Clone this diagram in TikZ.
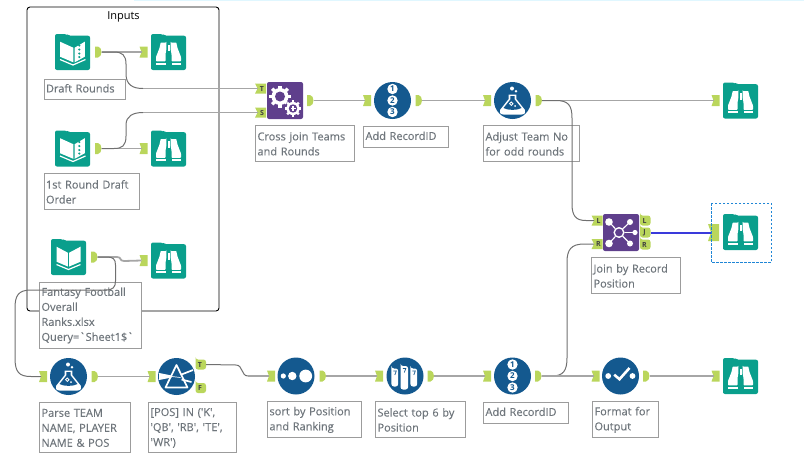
\documentclass[tikz,border=0pt]{standalone}
\usepackage{fontspec}
\setmainfont{Open Sans}
\newfontfamily\lblfont[FakeBold=0.25]{Open Sans}
\definecolor{tealico}{HTML}{0A9F8C}
\definecolor{blueico}{HTML}{14598F}
\definecolor{purpico}{HTML}{5F3F8C}
\definecolor{tagcol}{HTML}{BAD65C}
\definecolor{wirecol}{HTML}{A6A6A6}
\definecolor{curvecol}{HTML}{707070}
\definecolor{lblcol}{HTML}{6F767C}
\definecolor{boxcol}{HTML}{9C9C9C}
\definecolor{selwire}{HTML}{3A3ADB}
\definecolor{seldash}{HTML}{1F86D6}
\tikzset{
	wire/.style={wirecol,line width=1.8},
	curve/.style={curvecol,line width=1},
	lbl/.style={draw=boxcol,line width=1,fill=white,anchor=north west,align=left,inner sep=2,text=lblcol,font=\lblfont\fontsize{11}{15}\selectfont},
	lblone/.style={lbl,text depth=2.5},
	lblmany/.style={lbl,yshift=0.6},
	taglbl/.style={inner sep=0,text=black!75,font=\fontsize{7}{7}\selectfont\bfseries},
	intag/.pic={
		\fill[tagcol] (-4,-5.5) to (4,-5.5) to (4,5.5) to (-4,5.5) to (-2,0) to cycle;
		\coordinate (-w) at (-2,0);
	},
	inbig/.pic={
		\fill[tagcol] (-5.5,-8.5) to (5.5,-8.5) to (5.5,8.5) to (-5.5,8.5) to (-2.5,0) to cycle;
		\coordinate (-w) at (-2.5,0);
	},
	outtag/.pic={
		\fill[tagcol] (-3,-5.5) to (0,-5.5) .. controls (2,-5.5) and (3.5,-2.5) .. (3.5,0) .. controls (3.5,2.5) and (2,5.5) .. (0,5.5) to (-3,5.5) to cycle;
		\coordinate (-e) at (3.5,0);
	},
	inport/.pic={
		\fill[tagcol] (-5.5,-5) to (5.5,-5) to (5.5,5) to (-5.5,5) to (-3,0) to cycle;
		\node[taglbl] (-t) at (1.5,0) {#1};
		\coordinate (-w) at (-3,0);
	},
	outport/.pic={
		\fill[tagcol,rounded corners=2.5] (-5,-5) to (5.5,-5) to (5.5,5) to (-5,5) to cycle;
		\node[taglbl] (-t) at (-0.5,0) {#1};
		\coordinate (-e) at (5.5,0);
	},
	folder/.pic={
		\fill[tealico,rounded corners=2] (-17.5,18) to (-17.5,-18) to (-6,-18) to (-4,-16.3) to (17.5,-16.3) to (17.5,18) to cycle;
	},
	booksheet/.pic={
		\pic {folder};
		\fill[white] (-12.5,-10.3) to (0.8,-4.3) to (0.8,10.3) to (-12.5,4.7) to cycle;
		\fill[white] (2.2,-4.3) to (12.3,-10.3) to (12.3,4.7) to (2.2,10.3) to cycle;
		\draw[white,line width=1.2] (-12.5,7.5) to (0.5,13) to (13,7.5);
		\foreach \dy in {-6.5,-2.5,1.5,5} \fill[tealico] (6.8,\dy) circle (1.2);
	},
	bookplain/.pic={
		\pic {folder};
		\fill[white] (-12,-10.3) to (-0.7,-4.3) to (-0.7,9.5) to (-12,4.7) to cycle;
		\fill[white] (0.7,-4.3) to (12,-10.3) to (12,4.7) to (0.7,9.5) to cycle;
		\draw[white,line width=1.2] (-12,7.5) to (0,12.5) to (12,7.5);
	},
	browse/.pic={
		\pic {folder};
		\foreach \sx in {1,-1} {
			\begin{scope}[xscale=\sx]
				\fill[white,rounded corners=0.6] (2.2,-9.5) to (7.8,-9.5) to (9,-4) to (12.5,5) to (12.5,9.3) to (3,9.3) to (3,2) to (2.2,-2) to cycle;
				\fill[white] (3,10.8) rectangle (12.5,12.6);
			\end{scope}
		}
		\fill[white] (-1,-7.5) rectangle (1,-1);
	},
	bluedisc/.pic={
		\fill[blueico] (0,0) circle (18.5);
	},
	recnum/.pic={
		\pic {bluedisc};
		\foreach \dy/\num in {-11.5/1,0/2,11.5/3} {
			\fill[white] (0,\dy) circle (5.2);
			\node[inner sep=0,text=blueico,font=\fontsize{8}{8}\selectfont\bfseries] (-n\num) at (0,\dy) {\num};
		}
	},
	flask/.pic={
		\pic {bluedisc};
		\fill[white] (-3.8,-6) to (3.8,-6) to (3.8,-1.5) to (12.5,9.5) .. controls (13.5,12) and (12,14) .. (9,14) to (-9,14) .. controls (-12,14) and (-13.5,12) .. (-12.5,9.5) to (-3.8,-1.5) to cycle;
		\fill[blueico] (-2.2,-4.5) to (2.2,-4.5) to (2.2,-1) to (9,7.5) .. controls (5,10) and (-5,10) .. (-9,7.5) to (-2.2,-1) to cycle;
		\draw[white,line width=0.8] (-1.2,3.2) circle (1.7);
		\fill[white] (2.5,5.5) circle (1);
		\fill[white] (-0.5,-12) circle (2);
		\fill[white] (3.5,-9.3) circle (1.4);
	},
	prism/.pic={
		\pic {bluedisc};
		\draw[white,line width=1.7,line join=round] (0,-11.5) to (11,11) to (-11,11) to cycle;
		\fill[white] (-17.3,-3.5) to (-5,-1) to (-5,1) to (-17.3,3.5) to cycle;
		\draw[white,line width=0.7] (-5,0) to (4,1);
		\draw[white,line width=1.7] (5,-2) to (16.5,-6.5);
		\draw[white,line width=1.7] (5,3) to (15,5.5);
	},
	dots/.pic={
		\pic {bluedisc};
		\fill[white] (-12.7,0) circle (2.6);
		\fill[white] (-3.7,0) circle (4.2);
		\fill[white] (9.7,0) circle (6.4);
	},
	tubes/.pic={
		\pic {bluedisc};
		\foreach \cx/\ty/\by/\hw in {-10.2/-7.5/10.5/3.4,-0.7/-10/13.5/3.8,8.8/-7.5/10.5/3.4} {
			\fill[white,rounded corners=2.5] (\cx-\hw,\ty) to (\cx+\hw,\ty) to (\cx+\hw,\by) to (\cx-\hw,\by) to cycle;
			\draw[blueico,line width=0.7] (\cx-1.5,\ty+2.5) to (\cx+1.5,\ty+2.5) to (\cx,\ty+6.5);
		}
	},
	checkdots/.pic={
		\pic {bluedisc};
		\fill[white] (-12.3,0) circle (2.9);
		\fill[white] (12,0) circle (2.9);
		\draw[white,line width=2.6] (-6.3,-1.3) to (-1,3.2) to (9,-8);
	},
	purpbox/.pic={
		\fill[purpico,rounded corners=2] (-18,-18.5) rectangle (18,18.5);
	},
	gears/.pic={
		\pic {purpbox};
		\foreach \a in {0,45,...,315} \fill[white,rotate around={\a:(-5,-4)}] (-6.6,-15) rectangle (-3.4,-11);
		\fill[white] (-5,-4) circle (8.5);
		\fill[purpico] (-5,-4) circle (5);
		\fill[purpico] (8,8) circle (8.6);
		\foreach \a in {0,45,...,315} \fill[white,rotate around={\a:(8,8)}] (6.8,-0.2) rectangle (9.2,2.5);
		\fill[white] (8,8) circle (6.6);
		\fill[purpico] (8,8) circle (4.2);
		\fill[white] (7.2,5.5) rectangle (8.8,10.5);
		\fill[white] (5.5,7.2) rectangle (10.5,8.8);
	},
	joiner/.pic={
		\pic {purpbox};
		\draw[white,line width=1.1] (-12,-10.5) to (-2,0) to (9,-10.5);
		\draw[white,line width=1.1] (-12,11) to (-2,0) to (9,11);
		\draw[white,line width=1.1] (-2,0) to (14,0);
		\fill[purpico] (-2,0) circle (5.5);
		\draw[white,line width=1.4] (-2,0) circle (4.8);
		\fill[white] (-12,-10.5) circle (3.8);
		\fill[white] (9,-10.5) circle (3);
		\fill[white] (14,0) circle (2.6);
		\fill[white] (-12,11) circle (3.8);
		\fill[white] (9,11) circle (3);
	},
}
\begin{document}
\begin{tikzpicture}[x=1pt,y=-1pt]
	\useasboundingbox (0,0) rectangle (804,464);
	\fill[blue!25!cyan!12] (134,0) rectangle (804,1);
	\draw[black,line width=0.9,rounded corners=3] (27,7) rectangle (219,311);
	\node[inner sep=0,text=black,font=\fontsize{11}{13}\selectfont] (inputs) at (123.5,17) {Inputs};

	\node[lblone,text width=77,minimum height=20] (lbldraft) at (43.5,79) {Draft Rounds};
	\node[lblmany,text width=91,minimum height=36] (lblfirst) at (43.5,174) {1st Round Draft\\Order};
	\node[lbl,text width=98,minimum height=66] (lblfantasy) at (39,282) {Fantasy Football\\Overall\\Ranks.xlsx\\Query=`Sheet1\$`};
	\node[lblmany,text width=87,minimum height=50] (lblparse) at (39,403) {Parse TEAM\\NAME, PLAYER\\NAME \& POS};
	\node[lblmany,text width=84,minimum height=50] (lblfilter) at (148,403) {[POS] IN ('K',\\'QB', 'RB', 'TE',\\'WR')};
	\node[lblmany,text width=90,minimum height=36] (lblsort) at (267,402) {sort by Position\\and Ranking};
	\node[lblmany,text width=86,minimum height=36] (lblselect) at (375,402) {Select top 6 by\\Position};
	\node[lblone,text width=81,minimum height=21] (lblrectwo) at (483,402) {Add RecordID};
	\node[lblmany,text width=62,minimum height=36] (lblformat) at (592,402) {Format for\\Output};
	\node[lblmany,text width=95,minimum height=36] (lblcross) at (255,126) {Cross join Teams\\and Rounds};
	\node[lblone,text width=81,minimum height=21] (lblrecone) at (363,126) {Add RecordID};
	\node[lblmany,text width=92,minimum height=36] (lbladjust) at (483,126) {Adjust Team No\\for odd rounds};
	\node[lblmany,text width=85,minimum height=36] (lbljoin) at (591,258) {Join by Record\\Position};

	\pic (draft) at (72.5,52) {booksheet};
	\pic (first) at (72.5,148.5) {booksheet};
	\pic (fantasy) at (68.5,257) {bookplain};
	\pic (viewa) at (168.5,52) {browse};
	\pic (viewb) at (168.5,148.5) {browse};
	\pic (viewc) at (168.5,260.5) {browse};
	\pic (cross) at (285,100.5) {gears};
	\pic (recone) at (392.5,100.5) {recnum};
	\pic (adjust) at (512.5,100.5) {flask};
	\pic (viewd) at (740.5,100.5) {browse};
	\pic (join) at (621,232.5) {joiner};
	\pic (viewe) at (740.5,232) {browse};
	\pic (parse) at (68.5,376.5) {flask};
	\pic (filter) at (176.5,376.5) {prism};
	\pic (sort) at (296,376) {dots};
	\pic (select) at (405,376) {tubes};
	\pic (rectwo) at (512.5,376) {recnum};
	\pic (format) at (620.5,376) {checkdots};
	\pic (viewf) at (740.5,376) {browse};

	\pic (draftout) at (98,52) {outtag};
	\pic (firstout) at (98,148.5) {outtag};
	\pic (fantasyout) at (94,257) {outtag};
	\pic (viewain) at (143.5,52) {intag};
	\pic (viewbin) at (143.5,148.5) {intag};
	\pic (viewcin) at (143.5,260.5) {intag};
	\pic (crosst) at (260.5,88.5) {inport=T};
	\pic (crosss) at (260.5,112.5) {inport=S};
	\pic (crossout) at (310,100.5) {outtag};
	\pic (reconein) at (367,100.5) {intag};
	\pic (reconeout) at (418.5,100.5) {outtag};
	\pic (adjustin) at (487,100.5) {intag};
	\pic (adjustout) at (538.5,100.5) {outtag};
	\pic (viewdin) at (715.5,100.5) {intag};
	\pic (joinl) at (597,220.5) {inport=L};
	\pic (joinr) at (597,244) {inport=R};
	\pic (joinol) at (645,220.5) {outport=L};
	\pic (joinoj) at (645,232.5) {outport=J};
	\pic (joinor) at (645,244.5) {outport=R};
	\pic (parsein) at (43,376.5) {intag};
	\pic (parseout) at (94.5,376.5) {outtag};
	\pic (filterin) at (151.5,376.5) {intag};
	\pic (filtert) at (200.5,364.5) {outport=T};
	\pic (filterf) at (200.5,388) {outport=F};
	\pic (sortin) at (271,376) {intag};
	\pic (sortout) at (322.5,376) {outtag};
	\pic (selectin) at (379,376) {intag};
	\pic (selectout) at (430.5,376) {outtag};
	\pic (rectwoin) at (487,376) {intag};
	\pic (rectwoout) at (538,376) {outtag};
	\pic (formatin) at (595.5,376) {intag};
	\pic (formatout) at (646,376) {outtag};
	\pic (viewfin) at (715.5,376) {intag};

	\coordinate (bendt) at (143,88.5);
	\coordinate (bends) at (143,112.5);
	\draw[wire] (draftout-e) to (viewain-w);
	\draw[wire] (firstout-e) to (viewbin-w);
	\draw[wire] (bendt) to (crosst-w);
	\draw[wire] (bends) to (crosss-w);
	\draw[curve] (draftout-e) to (114,52) .. controls (122,52) and (126,55) .. (126,64) to (126,74) .. controls (126,85) and (133,88.5) .. (bendt);
	\draw[curve] (firstout-e) to (114,148.5) .. controls (122,148.5) and (126,146) .. (126,136) to (126,125) .. controls (126,116) and (133,112.5) .. (bends);
	\draw[wire] (fantasyout-e) to (117,257) .. controls (122,257) and (119,261) .. (124,261) to (viewcin-w);
	\draw[curve] (fantasyout-e) to (107,257) .. controls (113,257) and (115.5,259) .. (115.5,265) to (115.5,281) .. controls (115.5,287) and (113,290) .. (106,290) to (31,290) .. controls (18,290) and (15,296) .. (15,308) to (15,358) .. controls (15,372) and (19,376.5) .. (31,376.5) to (parsein-w);
	\draw[wire] (crossout-e) to (reconein-w);
	\draw[wire] (reconeout-e) to (adjustin-w);
	\draw[wire] (adjustout-e) to (viewdin-w);
	\draw[curve] (adjustout-e) to (556,100.5) .. controls (568,100.5) and (572,105) .. (572,118) to (572,204) .. controls (572,216) and (576,220.5) .. (586,220.5) to (joinl-w);
	\draw[curve] (rectwoout-e) to (552,376) .. controls (563,376) and (567,371) .. (567,358) to (567,262) .. controls (567,250) and (571,244) .. (584,244) to (joinr-w);
	\draw[wire] (parseout-e) to (filterin-w);
	\coordinate (bendf) at (248,376);
	\draw[curve] (filtert-e) to (236,365) .. controls (243,365) and (241,376) .. (bendf);
	\draw[wire] (bendf) to (sortin-w);
	\draw[wire] (sortout-e) to (selectin-w);
	\draw[wire] (selectout-e) to (rectwoin-w);
	\draw[wire] (rectwoout-e) to (formatin-w);
	\draw[wire] (formatout-e) to (viewfin-w);
	\pic (viewein) at (713.5,232.5) {inbig};
	\draw[selwire,line width=2] (joinoj-e) to (viewein-w);
	\draw[seldash,line width=1,dash pattern=on 2.5pt off 1.5pt] (711,203) rectangle (771,262);
\end{tikzpicture}
\end{document}
